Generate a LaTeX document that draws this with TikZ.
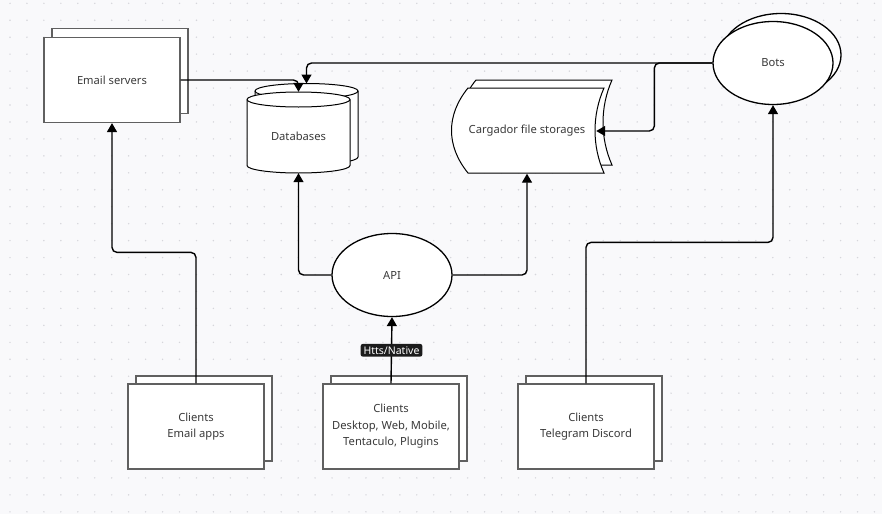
\documentclass[tikz,border=0pt]{standalone}
\usepackage{fontspec}
\setmainfont{Noto Sans}
\usetikzlibrary{arrows.meta, shapes.geometric}

\definecolor{canvas}{HTML}{F9F9FB}
\definecolor{dotgray}{HTML}{D6D6DB}
\definecolor{boxline}{HTML}{606060}
\definecolor{txt}{HTML}{3A3A3A}
\definecolor{tagfill}{HTML}{1C1C1C}

\begin{document}
\begin{tikzpicture}[x=1pt, y=-1pt, font=\fontsize{11.2}{16.5}\selectfont, text=txt,
   box node/.style={rectangle, draw=boxline, line width=1.2pt, fill=white, minimum width=136pt, minimum height=85pt, align=center, inner sep=0pt},
   oval node/.style={ellipse, draw, line width=1.3pt, fill=white, minimum width=120pt, minimum height=83pt, inner sep=0pt},
   plain node/.style={rectangle, inner sep=0pt, align=center},
   store/.style={draw, line width=1pt, fill=white},
   conn/.style={line width=1.4pt, rounded corners=5pt, -{Triangle[length=9pt,width=10pt]}},
   tag/.style={fill=tagfill, text=white, rounded corners=2.5pt, inner xsep=3pt, inner ysep=2.5pt, font=\fontsize{10.5}{12}\selectfont}]
   \useasboundingbox (0,0) rectangle (882,514);
   \fill[canvas] (0,0) rectangle (882,514);
   \foreach \i in {0,...,51}
      \foreach \j in {0,...,30}
         \fill[dotgray] (10+16.95*\i, 3.3+16.95*\j) circle (0.8pt);

   % email servers
   \node[box node] (mail-back) at (120,71) {};
   \node[box node] (mail) at (112,80) {Email servers};

   % databases
   \filldraw[store] (255,91) -- (255,157) arc[start angle=180, end angle=360, x radius=51.5pt, y radius=7.5pt]
      -- (358,91) arc[start angle=0, end angle=180, x radius=51.5pt, y radius=7.5pt] -- cycle;
   \draw[line width=1pt] (255,91) arc[start angle=180, end angle=360, x radius=51.5pt, y radius=7.5pt];
   \filldraw[store] (247,99.5) -- (247,165.5) arc[start angle=180, end angle=360, x radius=51.5pt, y radius=7.5pt]
      -- (350,99.5) arc[start angle=0, end angle=180, x radius=51.5pt, y radius=7.5pt] -- cycle;
   \draw[line width=1pt] (247,99.5) arc[start angle=180, end angle=360, x radius=51.5pt, y radius=7.5pt];
   \node[plain node, minimum width=103pt, minimum height=81pt, label={[yshift=-4pt]center:Databases}] (db) at (298.5,132.5) {};
   \coordinate (db-back) at (306.5,83.5);

   % file storages
   \filldraw[store] (476,80) -- (612,80) .. controls (600,107) and (600,138) .. (612,165)
      -- (476,165) .. controls (454,138) and (454,107) .. (476,80) -- cycle;
   \filldraw[store] (468,88) -- (604,88) .. controls (592,115) and (592,146) .. (604,173)
      -- (468,173) .. controls (446,146) and (446,115) .. (468,88) -- cycle;
   \node[plain node, minimum width=138pt, minimum height=85pt] (cargo) at (527,131) {Cargador file storages};

   % bots and api
   \node[oval node] (bots-back) at (781,55) {};
   \node[oval node] (bots) at (773,63) {Bots};
   \node[oval node] (api) at (392,275) {API};

   % clients
   \node[box node] (cli-mail-back) at (204,418.5) {};
   \node[box node] (cli-mail) at (196,426.5) {Clients\\Email apps};
   \node[box node] (cli-app-back) at (399,418.5) {};
   \node[box node] (cli-app) at (391,426.5) {Clients\\Desktop, Web, Mobile,\\Tentaculo, Plugins};
   \node[box node] (cli-chat-back) at (594,418.5) {};
   \node[box node] (cli-chat) at (586,426.5) {Clients\\Telegram Discord};

   \draw[conn] (mail.east) -| (db.north);
   \draw[conn] (bots.west) -| (db-back);
   \draw[conn] (bots.west) -- ++(-58,0) |- (cargo.east);
   \draw[conn] (cli-mail.north) -- ++(0,-131) -| (mail.south);
   \draw[conn] (cli-app.north) -- node[tag] {Htts/Native} (api.south);
   \draw[conn] (api.west) -| (db.south);
   \draw[conn] (api.east) -| (cargo.south);
   \draw[conn] (cli-chat.north) -- ++(0,-141) -| (bots.south);
\end{tikzpicture}
\end{document}
